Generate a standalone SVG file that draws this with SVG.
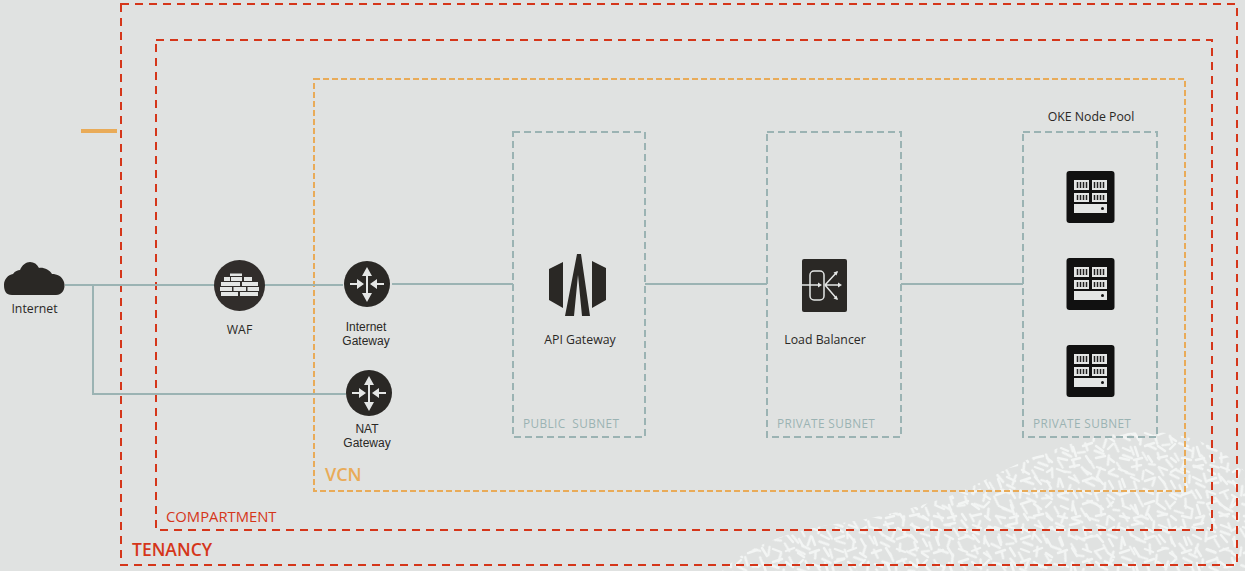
<svg xmlns="http://www.w3.org/2000/svg" width="1245" height="571" viewBox="0 0 1245 571">
<style>
text{font-family:"Open Sans","Liberation Sans",sans-serif;font-size:12.3px;fill:#2a2825;text-anchor:middle;-webkit-text-stroke:.4px #2a2825}
text.gl{font-family:"Liberation Sans",Arial,sans-serif;font-size:12px}
.red{fill:none;stroke:#d5361a;stroke-width:2;stroke-dasharray:8 6}
.redt{fill:#d5361a;-webkit-text-stroke:.4px #d5361a;text-anchor:start}
.org{fill:none;stroke:#e9ab58;stroke-width:2;stroke-dasharray:6 3}
.sub{fill:none;stroke:#9bb3b3;stroke-width:2;stroke-dasharray:7 4}
.sl{fill:#9bb3b3;font-size:11.800px;text-anchor:start;letter-spacing:.38px;-webkit-text-stroke:0}
.conn{fill:none;stroke:#9bb3b3;stroke-width:2}
.dark{fill:#2a2825}
.wf{fill:#e4e6e5}
.tx{stroke:#f3f5f4;stroke-width:2.400;stroke-linecap:round;fill:none}
</style>
<defs>
<pattern id="rice" width="62" height="58" patternUnits="userSpaceOnUse">
<path class="tx" d="M3 5l8 3M16 3l9-2M30 6l7 4M43 3l8 3M55 8l5-3M6 15l3 8M15 13l8 4M29 17l9-3M43 13l6 7M55 17l4 7M4 31l9-3M18 26l5 8M29 27l8 3M42 29l8-3M54 31l6 4M7 42l7 3M19 41l3 9M29 40l9-3M42 40l7 5M54 43l5-5M4 52l9 2M18 54l8-2M32 50l4 6M42 52l9-2M55 52l5 4"/>
</pattern>
<pattern id="rice2" href="#rice" patternTransform="translate(17 11) rotate(38)"/>
<clipPath id="blob"><path d="M722 571C745 548 790 530 835 524C880 518 915 508 953 495C985 482 1015 462 1053 450C1085 437 1125 431 1155 432C1190 434 1225 448 1245 472V571Z"/></clipPath>
<g id="srv">
<rect x="-24" y="-26" width="48" height="52" rx="3" fill="#111"/>
<path class="wf" d="M-16.500-17h15v10h-15zM1.500-17h15v10h-15zM-16.500-4h15v9h-15zM1.500-4h15v9h-15zM-16.500 7h33v9h-33z"/>
<path d="M-13-15v6M-10-15v6M-7-15v6M-4-15v6M4-15v6M7-15v6M10-15v6M13-15v6M-13-2v5M-10-2v5M-7-2v5M-4-2v5M4-2v5M7-2v5M10-2v5M13-2v5" stroke="#222" stroke-width="1.500"/>
<circle cx="12" cy="11.500" r="1.500" fill="#111"/>
</g>
<g id="gw">
<circle r="23" fill="#2a2825"/>
<path class="wf" d="M0-17l-5 9h4v17h-4l5 9 5-9h-4v-17h4z"/>
<path class="wf" d="M-17-1v2h7v4l7-5-7-5v4zM17-1v2h-7v4l-7-5 7-5v4z"/>
</g>
</defs>
<rect width="1245" height="571" fill="#e0e2e1"/>
<g clip-path="url(#blob)">
<rect x="722" y="430" width="523" height="141" fill="url(#rice)"/>
<rect x="722" y="430" width="523" height="141" fill="url(#rice2)"/>
</g>
<g id="containers">
<rect id="tenancy" class="red" x="121" y="4" width="1116" height="561"/>
<rect id="compartment" class="red" x="156" y="40" width="1056" height="490"/>
<rect id="vcn" class="org" x="314" y="79" width="871" height="412"/>
<rect id="subnet1" class="sub" x="513" y="132" width="132" height="305"/>
<rect id="subnet2" class="sub" x="767" y="132" width="134" height="305"/>
<rect id="subnet3" class="sub" x="1023" y="132" width="134" height="305"/>
<rect id="legend-bar" x="81" y="129" width="36" height="4" fill="#e9ab58"/>
<text class="redt" x="132" y="556" style="font-size:17.500px;font-weight:600">TENANCY</text>
<text class="redt" x="166" y="522" style="font-size:14.800px">COMPARTMENT</text>
<text x="325" y="481" style="fill:#e9ab58;-webkit-text-stroke:.2px #e9ab58;font-size:18px;font-weight:600;text-anchor:start">VCN</text>
<text class="sl" x="523" y="428" xml:space="preserve">PUBLIC  SUBNET</text>
<text class="sl" x="777" y="428">PRIVATE SUBNET</text>
<text class="sl" x="1033" y="428">PRIVATE SUBNET</text>
<text x="1091" y="121">OKE Node Pool</text>
</g>
<g id="connectors">
<path class="conn" d="M65 285H343"/>
<path class="conn" d="M93 285V394H346"/>
<path class="conn" d="M392 284H513"/>
<path class="conn" d="M645 284H767"/>
<path class="conn" d="M901 284H1023"/>
</g>
<g id="internet">
<path class="dark" d="M12 295C6 295 4 291 4 285C4 279 8 275 13 274C15 271 18 270 20 270C22 265 26 262 30 262C34 262 37 264 39 268C43 267 50 270 52 274C57 274 62 276 64 282C66 289 62 295 56 295Z"/>
<text x="34.500" y="313">Internet</text>
</g>
<g id="waf">
<circle cx="239.500" cy="285.500" r="25.500" fill="#312d2b"/>
<path class="wf" d="M230 273.500h12v2.500h-12zM224 277h6v4h-6zM231 277h11v4h-11zM244 277h8v4h-8zM221 282h19v4h-19zM242 282h16v4h-16zM220 287h12v4h-12zM233.500 287h12.500v4h-12.500zM247.500 287h11.500v4h-11.500zM221 292h17v4h-17zM240 292h18v4h-18z"/>
<text x="239.500" y="334">WAF</text>
</g>
<g id="internet-gateway">
<use href="#gw" x="367" y="284"/>
<text class="gl" x="366" y="331">Internet</text>
<text class="gl" x="366" y="345">Gateway</text>
</g>
<g id="nat-gateway">
<use href="#gw" x="369" y="393"/>
<text class="gl" x="367" y="433">NAT</text>
<text class="gl" x="367" y="447">Gateway</text>
</g>
<g id="api-gateway">
<path class="dark" d="M563 262V308L549 300V269ZM592 261L606 268V300L592 308Z"/>
<path class="dark" d="M577 254H581L590 316H582L578 275L574 316H565Z"/>
<text x="580" y="344">API Gateway</text>
</g>
<g id="load-balancer">
<rect x="802" y="259" width="45" height="53" rx="2" fill="#2a2825"/>
<rect x="810" y="271" width="14" height="29" rx="4" fill="none" stroke="#e4e6e5" stroke-width="1.500"/>
<path d="M802 285H819M825 285L837 272M825 285H840M825 285L837 299" stroke="#e4e6e5" stroke-width="1.500" fill="none"/>
<path class="wf" d="M822 285l-4-2.500v5zM842 285l-4-2.500v5zM838 271l-4.500 1.500 3 3zM838 300l-1.500-4.500-3 3z"/>
<text x="825" y="344">Load Balancer</text>
</g>
<g id="oke-node-1"><use href="#srv" x="1090.500" y="197"/></g>
<g id="oke-node-2"><use href="#srv" x="1090.500" y="284"/></g>
<g id="oke-node-3"><use href="#srv" x="1090.500" y="371"/></g>
</svg>
